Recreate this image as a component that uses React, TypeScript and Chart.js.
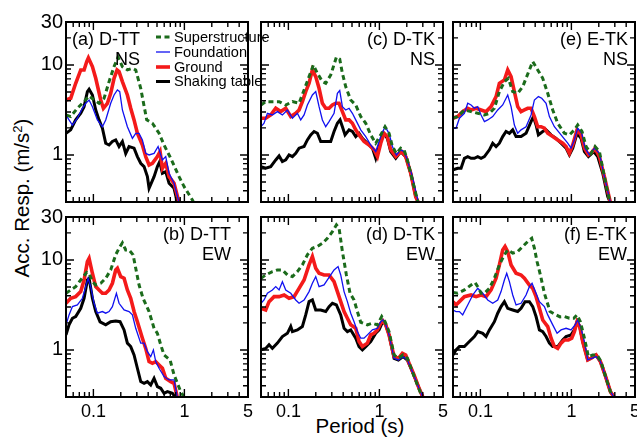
import React, { useEffect, useRef } from "react";
import { Chart, registerables } from "chart.js";

Chart.register(...registerables);

type Pt = [number, number];

// ---------- axes ----------
const X_MIN = 0.05;
const X_MAX = 5;
const Y_MIN = 0.3;
const Y_MAX = 30;
const X_LABEL_TICKS = [0.1, 1, 5];
const Y_LABEL_TICKS = [1, 10, 30];
const X_TICK_MARKS = [0.05, 0.06, 0.07, 0.08, 0.09, 0.1, 0.2, 0.3, 0.4, 0.5, 0.6, 0.7, 0.8, 0.9, 1, 2, 3, 4, 5];
const Y_TICK_MARKS = [0.3, 0.4, 0.5, 0.6, 0.7, 0.8, 0.9, 1, 2, 3, 4, 5, 6, 7, 8, 9, 10, 20, 30];
const MAJOR_TICKS = [0.1, 1, 10];

const SERIES_NAMES = ["Superstructure", "Foundation", "Ground", "Shaking table"];
const X_TITLE = "Period (s)";

// ---------- data: [period (s), acceleration response (m/s^2)] ----------
// (a) D-TT NS
const A_SUP: Pt[] = [[0.05,2.78],[0.0563,2.67],[0.0667,3.3],[0.079,3.91],[0.0897,4.53],[0.1017,4.08],[0.1154,3.75],[0.131,4.26],[0.1487,6.53],[0.1687,9.58],[0.1866,12.2],[0.2083,9.58],[0.2363,8.8],[0.2683,9.18],[0.2919,8.8],[0.3312,5.5],[0.3855,2.45],[0.445,2.25],[0.5268,1.74],[0.5978,1.29],[0.7077,0.918],[0.8737,0.574],[0.9916,0.445],[1.224,0.316],[1.332,0.267]];
const A_FND: Pt[] = [[0.05,2.78],[0.054,2.45],[0.0588,2.15],[0.0667,2.56],[0.0757,3.3],[0.0824,3.75],[0.0897,4.08],[0.0975,3.44],[0.1107,2.45],[0.1256,2.06],[0.1366,2.45],[0.155,3.75],[0.1687,4.64],[0.1835,5.27],[0.1947,5.05],[0.2083,3.16],[0.2363,2.06],[0.2683,1.53],[0.2919,1.74],[0.3175,1.74],[0.3455,1.47],[0.3759,1.04],[0.409,1.0],[0.4642,1.04],[0.514,1.24],[0.5732,0.88],[0.6236,0.958],[0.6784,0.626],[0.77,0.484],[0.8737,0.295],[0.92,0.25]];
const A_GND: Pt[] = [[0.05,4.08],[0.0563,4.26],[0.0639,6.26],[0.0726,8.8],[0.079,8.8],[0.0845,10.9],[0.0881,12.0],[0.0975,9.58],[0.1061,7.11],[0.1204,4.08],[0.1288,3.3],[0.1425,3.75],[0.155,4.84],[0.1687,7.11],[0.182,8.8],[0.1914,8.43],[0.2083,6.53],[0.2363,4.64],[0.2571,3.3],[0.2798,2.45],[0.3044,1.74],[0.3455,1.29],[0.3759,0.958],[0.409,0.774],[0.445,0.808],[0.505,0.958],[0.5404,1.09],[0.5732,0.711],[0.6236,0.808],[0.6784,0.574],[0.77,0.484],[0.8737,0.295],[0.92,0.25]];
const A_TBL: Pt[] = [[0.05,1.74],[0.0563,1.9],[0.0639,2.45],[0.0726,2.9],[0.079,3.44],[0.0859,5.05],[0.0897,5.36],[0.0975,4.64],[0.1061,3.16],[0.1154,2.45],[0.1256,1.98],[0.1366,1.35],[0.1487,1.29],[0.1617,1.41],[0.1759,1.47],[0.1914,1.24],[0.2083,1.41],[0.2266,1.04],[0.2465,1.24],[0.2798,1.19],[0.3044,0.958],[0.3312,0.808],[0.3604,0.742],[0.3921,0.574],[0.409,0.426],[0.4642,0.574],[0.505,0.742],[0.5358,0.843],[0.5732,0.626],[0.6236,0.653],[0.6784,0.484],[0.77,0.426],[0.8378,0.295],[0.88,0.25]];

// (b) D-TT EW
const B_SUP: Pt[] = [[0.05,4.26],[0.0563,4.64],[0.0639,5.05],[0.0726,5.99],[0.0845,7.29],[0.0897,7.11],[0.0975,5.74],[0.1061,5.27],[0.1204,5.5],[0.1366,6.26],[0.155,7.74],[0.1759,11.4],[0.1914,13.5],[0.2083,15.5],[0.2266,12.9],[0.2465,12.9],[0.273,11.4],[0.2919,8.08],[0.3175,5.27],[0.3513,3.75],[0.409,2.67],[0.4642,1.74],[0.505,1.53],[0.5495,1.14],[0.5978,0.88],[0.696,0.774],[0.77,0.528],[0.896,0.36],[0.9916,0.295],[1.03,0.26]];
const B_FND: Pt[] = [[0.05,1.9],[0.054,2.45],[0.0588,3.03],[0.0667,3.16],[0.0757,3.75],[0.0824,5.05],[0.0874,6.26],[0.0935,5.05],[0.1017,3.3],[0.1107,2.56],[0.1256,2.67],[0.1366,2.56],[0.1487,2.67],[0.1617,3.03],[0.179,4.26],[0.1914,3.3],[0.2173,2.78],[0.2465,2.67],[0.2683,2.45],[0.2919,1.74],[0.3312,1.19],[0.3604,1.19],[0.3921,0.958],[0.4266,0.843],[0.4564,1.0],[0.4842,0.742],[0.5268,0.626],[0.5978,0.505],[0.6784,0.464],[0.77,0.464],[0.8378,0.295],[0.86,0.26]];
const B_GND: Pt[] = [[0.05,3.3],[0.0563,3.75],[0.0639,3.91],[0.0726,4.45],[0.079,5.99],[0.0859,9.58],[0.0897,10.4],[0.0975,7.11],[0.1061,5.05],[0.1154,4.64],[0.1256,4.26],[0.1366,4.26],[0.1487,4.64],[0.1617,5.5],[0.1759,7.74],[0.1835,8.08],[0.1997,6.53],[0.2173,6.26],[0.2363,4.64],[0.2571,3.75],[0.2798,2.67],[0.3044,2.06],[0.3455,1.35],[0.3759,1.04],[0.409,0.742],[0.445,0.711],[0.4842,0.742],[0.5268,0.681],[0.5732,0.626],[0.6236,0.484],[0.7077,0.445],[0.77,0.426],[0.8378,0.295],[0.86,0.26]];
const B_TBL: Pt[] = [[0.05,1.47],[0.054,1.9],[0.0588,2.25],[0.0639,2.35],[0.0726,2.9],[0.079,3.75],[0.0859,5.99],[0.0897,6.26],[0.0975,3.75],[0.1061,2.67],[0.1184,2.05],[0.1366,1.9],[0.155,2.06],[0.1759,2.1],[0.1963,2.06],[0.2173,1.67],[0.2363,1.19],[0.2571,1.09],[0.2798,0.88],[0.3044,0.626],[0.3312,0.445],[0.3604,0.426],[0.3921,0.445],[0.4266,0.408],[0.4642,0.484],[0.505,0.391],[0.5495,0.375],[0.5978,0.33],[0.6504,0.344],[0.7382,0.33],[0.8029,0.295],[0.83,0.26]];

// (c) D-TK NS
const C_SUP: Pt[] = [[0.05,3.59],[0.0563,3.91],[0.0667,3.91],[0.079,3.91],[0.0935,3.59],[0.1107,3.91],[0.131,3.75],[0.1487,5.27],[0.1687,7.42],[0.1882,10.0],[0.2083,8.08],[0.2363,6.53],[0.2571,6.26],[0.2919,7.74],[0.3369,12.2],[0.3665,11.6],[0.3921,8.08],[0.4266,5.74],[0.4842,4.08],[0.5495,3.59],[0.6236,2.67],[0.7077,2.25],[0.8029,1.67],[0.9113,1.35],[1.0344,1.67],[1.154,2.06],[1.277,1.74],[1.39,1.24],[1.538,1.04],[1.716,1.19],[1.867,1.14],[2.031,0.88],[2.305,0.528],[2.616,0.316],[2.7,0.27]];
const C_FND: Pt[] = [[0.05,2.06],[0.054,2.25],[0.0588,2.9],[0.0667,2.78],[0.0757,3.03],[0.0859,2.78],[0.0975,3.16],[0.1107,2.56],[0.1256,2.9],[0.1366,2.45],[0.1487,2.78],[0.1617,3.59],[0.1835,4.64],[0.1997,5.05],[0.2173,3.44],[0.2363,2.45],[0.2571,2.06],[0.2798,2.35],[0.3175,2.9],[0.3455,4.84],[0.3665,5.19],[0.3921,3.44],[0.4266,3.16],[0.4642,3.3],[0.505,2.9],[0.5495,2.45],[0.6236,1.9],[0.7077,1.6],[0.8029,1.29],[0.9113,1.09],[1.0344,1.6],[1.154,2.06],[1.277,1.74],[1.39,1.24],[1.538,1.0],[1.716,1.14],[1.867,1.09],[2.031,0.88],[2.305,0.574],[2.683,0.295],[2.75,0.26]];
const C_GND: Pt[] = [[0.05,2.56],[0.0563,2.56],[0.0639,2.78],[0.0726,3.3],[0.0824,3.03],[0.0935,3.3],[0.1061,2.67],[0.1204,2.9],[0.131,3.16],[0.1425,3.91],[0.155,5.05],[0.1687,6.26],[0.1835,8.8],[0.1997,7.42],[0.2173,5.5],[0.2363,3.75],[0.2571,3.3],[0.2798,3.3],[0.3044,3.59],[0.3312,3.75],[0.3604,3.75],[0.3921,3.03],[0.4266,2.45],[0.4642,2.45],[0.505,2.25],[0.5495,1.9],[0.5978,1.67],[0.6784,1.41],[0.77,1.29],[0.8737,1.14],[0.9506,0.958],[1.0344,1.35],[1.126,1.74],[1.224,1.6],[1.332,1.14],[1.512,0.958],[1.645,1.04],[1.76,1.09],[1.947,0.958],[2.21,0.626],[2.507,0.344],[2.683,0.295],[2.75,0.26]];
const C_TBL: Pt[] = [[0.05,0.742],[0.0563,0.711],[0.0639,0.742],[0.0726,0.88],[0.079,0.975],[0.0859,0.843],[0.0935,0.88],[0.1017,1.0],[0.1107,0.958],[0.1204,1.04],[0.131,1.19],[0.1487,1.24],[0.1617,1.47],[0.1759,1.67],[0.1914,1.82],[0.2083,1.74],[0.2266,1.41],[0.2571,1.41],[0.2919,1.41],[0.3175,1.82],[0.3455,2.25],[0.3696,2.45],[0.3921,2.06],[0.4195,1.67],[0.4642,1.9],[0.505,1.82],[0.5495,1.6],[0.5978,1.74],[0.6504,1.53],[0.7382,1.35],[0.8378,1.19],[0.9113,0.918],[0.9916,1.24],[1.107,1.74],[1.224,1.53],[1.332,1.09],[1.512,0.918],[1.716,1.09],[1.947,0.958],[2.21,0.626],[2.507,0.344],[2.683,0.295],[2.75,0.26]];

// (d) D-TK EW
const D_SUP: Pt[] = [[0.05,6.26],[0.0563,6.81],[0.0667,7.42],[0.0757,7.74],[0.0859,7.74],[0.0975,6.81],[0.1107,6.53],[0.1256,7.42],[0.1425,8.8],[0.1617,11.4],[0.1835,13.5],[0.2083,14.1],[0.2363,15.3],[0.2683,17.4],[0.3044,20.6],[0.3369,24.5],[0.3604,22.5],[0.3921,12.4],[0.4339,6.81],[0.476,4.26],[0.5268,3.59],[0.5732,2.67],[0.6236,2.03],[0.7382,1.9],[0.8378,1.98],[0.9506,1.9],[1.0607,2.35],[1.154,2.06],[1.277,1.6],[1.45,0.88],[1.618,0.808],[1.82,0.88],[2.031,0.808],[2.305,0.574],[2.616,0.408],[2.969,0.295],[3.05,0.27]];
const D_FND: Pt[] = [[0.05,3.3],[0.054,3.59],[0.0588,4.26],[0.0667,4.64],[0.0726,5.05],[0.079,4.64],[0.0859,5.74],[0.0935,4.64],[0.1061,4.26],[0.1204,3.59],[0.131,3.3],[0.1487,3.59],[0.1687,4.45],[0.1835,5.5],[0.1997,6.53],[0.2173,5.05],[0.2465,5.27],[0.2683,5.99],[0.2919,6.81],[0.3175,7.74],[0.3513,8.43],[0.3759,6.81],[0.409,4.45],[0.445,3.44],[0.4842,2.56],[0.5268,2.06],[0.5732,1.6],[0.6236,1.35],[0.6784,1.35],[0.7382,1.47],[0.8378,1.67],[0.9506,1.74],[1.0344,2.06],[1.097,2.15],[1.174,1.9],[1.277,1.47],[1.45,0.808],[1.618,0.774],[1.82,0.843],[2.031,0.774],[2.305,0.574],[2.729,0.375],[3.02,0.295],[3.1,0.27]];
const D_GND: Pt[] = [[0.05,2.9],[0.0563,2.78],[0.0613,3.44],[0.0696,3.91],[0.079,3.91],[0.0897,4.08],[0.1017,3.75],[0.1154,3.91],[0.131,4.84],[0.1487,5.99],[0.1687,8.8],[0.1835,10.9],[0.1997,8.08],[0.2173,7.11],[0.2465,6.81],[0.2798,6.81],[0.3175,5.74],[0.3455,4.45],[0.3759,3.44],[0.409,2.67],[0.445,2.25],[0.4842,1.9],[0.5495,1.74],[0.5978,1.24],[0.6504,1.09],[0.7382,1.19],[0.8029,1.47],[0.8737,1.53],[0.9506,1.67],[1.0344,1.98],[1.097,2.1],[1.174,1.9],[1.277,1.47],[1.45,0.843],[1.618,0.808],[1.789,0.918],[1.947,0.88],[2.118,0.711],[2.404,0.528],[2.729,0.375],[3.02,0.295],[3.1,0.27]];
const D_TBL: Pt[] = [[0.05,1.0],[0.0563,1.04],[0.0613,1.14],[0.0667,1.04],[0.0757,1.19],[0.0859,1.41],[0.0975,1.53],[0.1061,1.82],[0.1107,1.6],[0.1256,1.67],[0.1425,1.82],[0.155,2.45],[0.1687,3.44],[0.1835,3.59],[0.1997,2.78],[0.2266,2.78],[0.2571,2.67],[0.2798,3.03],[0.3044,3.3],[0.3369,3.16],[0.3759,2.45],[0.409,1.74],[0.445,1.6],[0.4842,1.67],[0.5495,1.35],[0.5978,1.09],[0.6504,1.0],[0.7077,1.09],[0.8029,1.24],[0.9113,1.53],[0.9916,1.67],[1.097,2.1],[1.174,1.9],[1.277,1.47],[1.45,0.808],[1.618,0.774],[1.82,0.843],[2.031,0.774],[2.305,0.574],[2.729,0.375],[3.02,0.295],[3.1,0.27]];

// (e) E-TK NS
const E_SUP: Pt[] = [[0.05,2.56],[0.0563,2.67],[0.0667,3.16],[0.079,3.03],[0.0935,2.9],[0.1107,2.78],[0.1256,2.9],[0.1425,3.3],[0.1617,5.05],[0.1835,6.53],[0.2031,7.11],[0.2266,5.05],[0.2571,4.84],[0.2919,5.74],[0.3455,8.8],[0.3759,10.9],[0.4266,8.8],[0.4842,7.11],[0.5495,4.84],[0.6236,3.16],[0.7077,2.25],[0.8378,1.74],[0.9506,1.67],[1.0789,1.9],[1.174,2.15],[1.31,1.82],[1.45,1.24],[1.645,1.04],[1.82,1.24],[2.031,1.09],[2.305,0.574],[2.616,0.316],[2.7,0.27]];
const E_FND: Pt[] = [[0.05,1.98],[0.054,1.98],[0.0588,2.56],[0.0667,2.9],[0.0726,3.75],[0.079,3.59],[0.0859,3.3],[0.0935,3.44],[0.1017,2.78],[0.1107,2.35],[0.1204,2.45],[0.1366,2.67],[0.155,3.16],[0.1759,3.59],[0.1997,4.64],[0.2173,3.44],[0.2363,2.15],[0.2571,1.74],[0.2798,1.9],[0.3175,2.06],[0.3604,2.78],[0.3921,4.08],[0.4339,4.45],[0.4721,4.26],[0.5268,3.75],[0.5732,2.67],[0.6504,2.06],[0.77,1.67],[0.9113,1.35],[0.9916,1.19],[1.0789,1.47],[1.174,1.98],[1.299,1.74],[1.414,1.19],[1.577,1.0],[1.789,1.19],[2.031,1.04],[2.305,0.574],[2.683,0.295],[2.75,0.26]];
const E_GND: Pt[] = [[0.05,2.56],[0.0563,2.67],[0.0639,3.03],[0.0726,3.3],[0.079,3.16],[0.0897,3.3],[0.1017,3.16],[0.1154,3.03],[0.131,3.44],[0.1487,4.45],[0.1617,6.26],[0.1835,6.81],[0.1997,8.8],[0.2173,7.42],[0.2363,5.05],[0.2571,3.44],[0.2798,3.03],[0.3044,3.16],[0.3312,3.3],[0.3604,3.3],[0.3921,2.67],[0.4266,2.06],[0.4642,2.06],[0.505,1.98],[0.5495,1.74],[0.6236,1.6],[0.7077,1.47],[0.8029,1.35],[0.8737,1.24],[0.9506,1.04],[1.0344,1.29],[1.154,1.9],[1.277,1.67],[1.39,1.19],[1.538,1.0],[1.716,1.09],[1.82,1.19],[2.031,0.958],[2.305,0.574],[2.683,0.295],[2.75,0.26]];
const E_TBL: Pt[] = [[0.05,0.681],[0.0563,0.711],[0.0613,0.711],[0.0667,0.918],[0.0726,0.958],[0.079,0.918],[0.0859,0.918],[0.0935,0.958],[0.1017,0.918],[0.1107,0.958],[0.1256,1.14],[0.1366,1.35],[0.1487,1.24],[0.1617,1.35],[0.1759,1.6],[0.1914,1.82],[0.2083,1.74],[0.2266,1.9],[0.2465,1.6],[0.2798,1.6],[0.3175,1.74],[0.3604,2.35],[0.3823,2.67],[0.409,2.15],[0.4339,1.67],[0.4842,1.82],[0.5268,1.9],[0.5978,1.67],[0.6784,1.53],[0.77,1.35],[0.8737,1.19],[0.9506,1.0],[1.0344,1.19],[1.154,1.74],[1.277,1.53],[1.39,1.09],[1.538,0.958],[1.76,1.09],[1.947,0.958],[2.21,0.626],[2.507,0.344],[2.683,0.295],[2.75,0.26]];

// (f) E-TK EW
const F_SUP: Pt[] = [[0.05,4.34],[0.0563,4.26],[0.0667,4.64],[0.079,5.27],[0.0874,5.6],[0.0935,5.05],[0.1017,4.26],[0.1107,4.26],[0.1256,4.84],[0.1425,6.26],[0.1617,8.8],[0.1835,11.4],[0.1997,12.9],[0.2266,11.9],[0.2571,12.4],[0.2919,14.1],[0.3312,16.0],[0.3665,17.4],[0.3921,13.5],[0.4195,9.58],[0.4564,6.81],[0.505,4.26],[0.583,2.67],[0.6504,2.51],[0.751,2.33],[0.8378,2.35],[0.9506,2.25],[1.0607,2.25],[1.154,2.45],[1.256,2.06],[1.39,1.35],[1.538,0.843],[1.716,0.88],[1.915,0.88],[2.118,0.742],[2.404,0.484],[2.683,0.344],[2.919,0.295],[3.0,0.27]];
const F_FND: Pt[] = [[0.05,2.78],[0.054,2.67],[0.0588,2.67],[0.0639,2.45],[0.0726,3.16],[0.0824,4.08],[0.0935,4.84],[0.1061,4.26],[0.1204,3.59],[0.1366,3.3],[0.155,3.59],[0.1687,4.45],[0.1835,5.99],[0.1947,7.11],[0.2083,5.74],[0.2266,4.08],[0.2465,3.16],[0.2798,3.3],[0.3175,4.08],[0.3455,5.05],[0.3696,5.5],[0.409,4.26],[0.445,3.44],[0.505,3.03],[0.5495,2.45],[0.6236,1.9],[0.696,1.53],[0.77,1.67],[0.8737,1.74],[0.9916,1.67],[1.097,1.9],[1.174,2.15],[1.277,1.74],[1.39,1.24],[1.512,0.774],[1.673,0.808],[1.867,0.843],[2.084,0.742],[2.344,0.528],[2.683,0.344],[2.969,0.295],[3.05,0.27]];
const F_GND: Pt[] = [[0.05,3.44],[0.054,3.16],[0.0588,3.44],[0.0667,3.91],[0.079,4.08],[0.0897,3.91],[0.1017,4.08],[0.1154,3.91],[0.131,4.64],[0.1487,6.26],[0.1617,8.8],[0.1759,12.9],[0.1866,14.1],[0.1997,12.4],[0.2173,8.8],[0.2465,7.11],[0.2798,6.81],[0.3044,6.26],[0.3455,5.27],[0.3759,4.84],[0.409,3.91],[0.445,2.9],[0.4842,2.15],[0.5495,1.82],[0.5978,1.35],[0.6504,1.09],[0.7077,1.04],[0.77,1.19],[0.8378,1.29],[0.9269,1.29],[1.0085,1.35],[1.0789,1.6],[1.154,2.06],[1.235,1.82],[1.332,1.24],[1.512,0.774],[1.645,0.808],[1.867,0.88],[2.084,0.742],[2.344,0.528],[2.683,0.344],[2.969,0.295],[3.05,0.27]];
const F_TBL: Pt[] = [[0.05,0.88],[0.054,1.0],[0.0588,1.09],[0.0667,1.09],[0.0757,1.24],[0.0859,1.41],[0.0935,1.6],[0.1061,1.53],[0.1154,1.41],[0.1256,1.67],[0.1425,2.06],[0.155,2.56],[0.1687,3.03],[0.1835,3.44],[0.1997,2.9],[0.2266,2.78],[0.2571,2.67],[0.2798,2.9],[0.3096,3.44],[0.3455,3.44],[0.3759,3.03],[0.409,2.35],[0.445,1.67],[0.4842,1.6],[0.5268,1.41],[0.5732,1.19],[0.6236,1.09],[0.7077,1.09],[0.8029,1.29],[0.8737,1.41],[0.9916,1.47],[1.0789,1.67],[1.154,2.06],[1.235,1.82],[1.332,1.24],[1.512,0.774],[1.645,0.808],[1.867,0.88],[2.084,0.742],[2.344,0.528],[2.683,0.344],[2.969,0.295],[3.05,0.27]];

// ---------- layout & style ----------
const FONT = "'Liberation Sans', Arial, Helvetica, sans-serif";
const PANEL_W = 182;
const PANEL_H = 180;
const COL_X = [66, 261, 453];
const ROW_Y = [22, 217];
const PAD_L = 50;
const PAD_T = 14;
const PAD_R = 14;
const PAD_B = 30;

const STYLES = [
  { color: "#1b6b1b", width: 3, dash: [5, 3.5] },
  { color: "#1010f0", width: 1.3, dash: [] as number[] },
  { color: "#f41a1a", width: 3.6, dash: [] as number[] },
  { color: "#000000", width: 3, dash: [] as number[] },
];

interface PanelCfg {
  key: string;
  col: number;
  row: number;
  title: string;
  dir: string;
  series: Pt[][];
  legend?: boolean;
  alignLeft?: boolean;
  inset: number;
}

const PANELS: PanelCfg[] = [
  { key: "a", col: 0, row: 0, title: "(a) D-TT", dir: "NS", series: [A_SUP, A_FND, A_GND, A_TBL], legend: true, alignLeft: true, inset: 6 },
  { key: "b", col: 0, row: 1, title: "(b) D-TT", dir: "EW", series: [B_SUP, B_FND, B_GND, B_TBL], inset: 17 },
  { key: "c", col: 1, row: 0, title: "(c) D-TK", dir: "NS", series: [C_SUP, C_FND, C_GND, C_TBL], inset: 8 },
  { key: "d", col: 1, row: 1, title: "(d) D-TK", dir: "EW", series: [D_SUP, D_FND, D_GND, D_TBL], inset: 8 },
  { key: "e", col: 2, row: 0, title: "(e) E-TK", dir: "NS", series: [E_SUP, E_FND, E_GND, E_TBL], inset: 7 },
  { key: "f", col: 2, row: 1, title: "(f) E-TK", dir: "EW", series: [F_SUP, F_FND, F_GND, F_TBL], inset: 8 },
];

function makeDecor(p: PanelCfg) {
  return {
    id: "decor_" + p.key,
    afterDatasetsDraw(chart: any) {
      const { ctx, chartArea: a, scales } = chart;
      const xs = scales.x;
      const ys = scales.y;
      ctx.save();
      ctx.strokeStyle = "#000";
      ctx.lineWidth = 1.4;
      ctx.beginPath();
      for (const v of X_TICK_MARKS) {
        const px = xs.getPixelForValue(v);
        const len = MAJOR_TICKS.includes(v) ? 8 : 5;
        ctx.moveTo(px, a.bottom);
        ctx.lineTo(px, a.bottom - len);
        ctx.moveTo(px, a.top);
        ctx.lineTo(px, a.top + len);
      }
      for (const v of Y_TICK_MARKS) {
        const py = ys.getPixelForValue(v);
        const len = MAJOR_TICKS.includes(v) ? 8 : 5;
        ctx.moveTo(a.left, py);
        ctx.lineTo(a.left + len, py);
        ctx.moveTo(a.right, py);
        ctx.lineTo(a.right - len, py);
      }
      ctx.stroke();
      ctx.lineWidth = 2;
      ctx.strokeRect(a.left, a.top, a.right - a.left, a.bottom - a.top);

      // panel label
      ctx.fillStyle = "#000";
      ctx.font = `18px ${FONT}`;
      ctx.textBaseline = "middle";
      const y1 = a.top + 18;
      const y2 = a.top + 38;
      if (p.alignLeft) {
        const x0 = a.left + p.inset;
        ctx.textAlign = "left";
        ctx.fillText(p.title, x0, y1);
        const w = ctx.measureText(p.title).width;
        ctx.textAlign = "right";
        ctx.fillText(p.dir, x0 + w, y2);
      } else {
        ctx.textAlign = "right";
        ctx.fillText(p.title, a.right - p.inset, y1);
        ctx.fillText(p.dir, a.right - p.inset, y2);
      }

      // legend
      if (p.legend) {
        const rows = [15, 30, 45, 59.5];
        ctx.font = `14.6px ${FONT}`;
        ctx.textAlign = "left";
        SERIES_NAMES.forEach((name, i) => {
          const st = STYLES[i];
          const yy = a.top + rows[i];
          ctx.save();
          ctx.strokeStyle = st.color;
          ctx.lineWidth = st.width;
          ctx.setLineDash(st.dash);
          ctx.beginPath();
          ctx.moveTo(a.left + 90, yy);
          ctx.lineTo(a.left + 104, yy);
          ctx.stroke();
          ctx.restore();
          ctx.fillStyle = "#000";
          ctx.fillText(name, a.left + 108, yy + 0.5);
        });
      }
      ctx.restore();
    },
  };
}

function Panel({ p }: { p: PanelCfg }) {
  const ref = useRef<HTMLCanvasElement>(null);
  const padR = p.legend ? 46 : PAD_R;
  const w = PAD_L + PANEL_W + padR;
  const h = PAD_T + PANEL_H + PAD_B;
  const showX = p.row === 1;
  const showY = p.col === 0;

  useEffect(() => {
    if (!ref.current) return;
    const datasets = p.series.map((pts, i) => ({
      label: SERIES_NAMES[i],
      data: pts.map(([x, y]) => ({ x, y })),
      borderColor: STYLES[i].color,
      backgroundColor: STYLES[i].color,
      borderWidth: STYLES[i].width,
      borderDash: STYLES[i].dash,
      pointRadius: 0,
      tension: 0,
      fill: false,
      clip: 0,
      order: i,
    }));
    const chart = new Chart(ref.current, {
      type: "line",
      data: { datasets },
      options: {
        animation: false,
        responsive: false,
        devicePixelRatio: 1,
        layout: { padding: { left: 0, top: PAD_T, right: padR, bottom: 0 } },
        plugins: { legend: { display: false }, tooltip: { enabled: false } },
        events: [],
        scales: {
          x: {
            type: "logarithmic",
            min: X_MIN,
            max: X_MAX,
            grid: { display: false, drawTicks: false },
            border: { display: false },
            afterBuildTicks: (s: any) => {
              s.ticks = X_LABEL_TICKS.map((v) => ({ value: v }));
            },
            afterFit: (s: any) => {
              s.height = PAD_B;
              s.paddingLeft = 0;
              s.paddingRight = 0;
              s.paddingTop = 0;
              s.paddingBottom = 0;
            },
            ticks: {
              display: showX,
              autoSkip: false,
              maxRotation: 0,
              padding: 4,
              color: "#000",
              font: { family: FONT, size: 18 },
              callback: (v: any) => String(v),
            },
          },
          y: {
            type: "logarithmic",
            min: Y_MIN,
            max: Y_MAX,
            grid: { display: false, drawTicks: false },
            border: { display: false },
            afterBuildTicks: (s: any) => {
              s.ticks = Y_LABEL_TICKS.map((v) => ({ value: v }));
            },
            afterFit: (s: any) => {
              s.width = PAD_L;
              s.paddingLeft = 0;
              s.paddingRight = 0;
              s.paddingTop = 0;
              s.paddingBottom = 0;
            },
            ticks: {
              display: showY,
              autoSkip: false,
              padding: 3,
              color: "#000",
              font: { family: FONT, size: 20 },
              callback: (v: any) => String(v),
            },
          },
        },
      } as any,
      plugins: [makeDecor(p)],
    });
    return () => chart.destroy();
  }, []);

  return (
    <canvas
      ref={ref}
      width={w}
      height={h}
      style={{
        position: "absolute",
        left: COL_X[p.col] - PAD_L,
        top: ROW_Y[p.row] - PAD_T,
        width: w,
        height: h,
        zIndex: p.legend ? 3 : 1,
      }}
    />
  );
}

export default function App() {
  return (
    <div
      style={{
        position: "fixed",
        left: 0,
        top: 0,
        width: 637,
        height: 443,
        background: "#fff",
        overflow: "hidden",
        fontFamily: FONT,
      }}
    >
      {PANELS.map((p) => (
        <Panel key={p.key} p={p} />
      ))}
      <div
        style={{
          position: "absolute",
          left: 22 - 150,
          top: 198 - 13,
          width: 300,
          height: 26,
          lineHeight: "26px",
          textAlign: "center",
          fontSize: 20.5,
          color: "#000",
          transform: "rotate(-90deg)",
          transformOrigin: "150px 13px",
          whiteSpace: "nowrap",
        }}
      >
        Acc. Resp. (m/s<sup style={{ fontSize: 13, lineHeight: 0, verticalAlign: "7px" }}>2</sup>)
      </div>
      <div
        style={{
          position: "absolute",
          left: 360 - 100,
          top: 426 - 13,
          width: 200,
          height: 26,
          lineHeight: "26px",
          textAlign: "center",
          fontSize: 20.5,
          color: "#000",
          whiteSpace: "nowrap",
        }}
      >
        {X_TITLE}
      </div>
    </div>
  );
}
